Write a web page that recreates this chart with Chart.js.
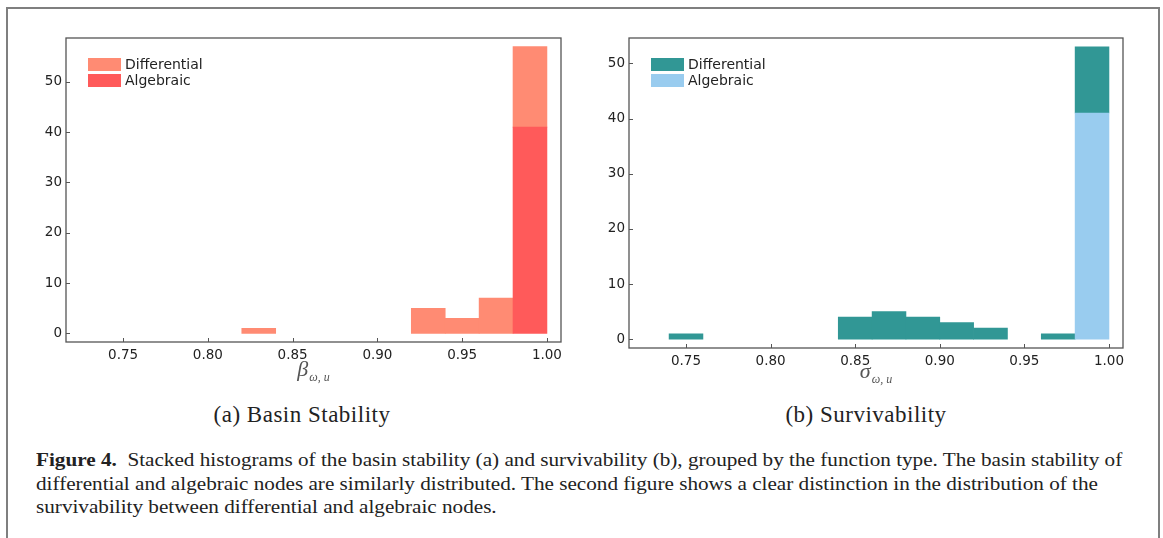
<!DOCTYPE html>
<html>
<head>
<meta charset="utf-8">
<script src="https://cdn.jsdelivr.net/npm/chart.js@4.4.1/dist/chart.umd.min.js"></script>
<style>
  body { margin: 0; width: 1163px; height: 538px; overflow: hidden; position: relative; background: #fff; font-family: "DejaVu Sans", sans-serif; }
  #frame { position: absolute; left: 6px; top: 7px; width: 1150px; height: 600px; border: 2px solid #7f7f7f; }
  canvas { position: absolute; top: 0; }
  .xlab { position: absolute; text-align: center; font-family: "Liberation Serif", serif; color: #555; }
  .xlab i { font-size: 22px; }
  .xlab sub { font-size: 12px; font-style: italic; vertical-align: -5px; margin-left: 1px; }
  .sub { position: absolute; top: 402px; font-family: "Liberation Serif", serif; font-size: 23px; letter-spacing: 0.5px; color: #222; text-align: center; width: 300px; }
  #caption { position: absolute; left: 36px; top: 449px; font-family: "Liberation Serif", serif; font-size: 18px; line-height: 23.5px; color: #222; white-space: nowrap; transform-origin: 0 0; }
</style>
</head>
<body>
<div id="frame"></div>
<canvas id="basin" width="580" height="400" style="left:0"></canvas>
<canvas id="surv" width="583" height="400" style="left:580px"></canvas>

<div class="xlab" style="left:66px;width:495px;top:356px"><i>β</i><sub>ω, u</sub></div>
<div class="xlab" style="left:629px;width:494px;top:358px"><i>σ</i><sub>ω, u</sub></div>

<div class="sub" style="left:152px">(a) Basin Stability</div>
<div class="sub" style="left:716px">(b) Survivability</div>

<div id="caption">
  <div id="l1"><b>Figure 4.</b>&nbsp; Stacked histograms of the basin stability (a) and survivability (b), grouped by the function type. The basin stability of</div>
  <div>differential and algebraic nodes are similarly distributed. The second figure shows a clear distinction in the distribution of the</div>
  <div>survivability between differential and algebraic nodes.</div>
</div>

<script>
// histogram bins, 0.02 wide (centres), from 0.74 to 1.00
const bins = [0.75, 0.77, 0.79, 0.81, 0.83, 0.85, 0.87, 0.89, 0.91, 0.93, 0.95, 0.97, 0.99];

// (a) basin stability counts
const basinDiff = [0, 0, 0, 0, 1, 0, 0, 0, 0, 5, 3, 7, 16];
const basinAlg  = [0, 0, 0, 0, 0, 0, 0, 0, 0, 0, 0, 0, 41];

// (b) survivability counts
const survDiff = [1, 0, 0, 0, 0, 4, 5, 4, 3, 2, 0, 1, 12];
const survAlg  = [0, 0, 0, 0, 0, 0, 0, 0, 0, 0, 0, 0, 41];

const xTicks = [0.75, 0.80, 0.85, 0.90, 0.95, 1.00];
const yTicks = [0, 10, 20, 30, 40, 50];

// empty bins are left out (null), otherwise chart.js draws a hairline at 0
const toPoints = arr => arr.map((v, i) => ({ x: bins[i], y: v === 0 ? null : v }));

// box around the plot + inward tick marks
const framePlugin = {
  id: "frame",
  afterDraw(chart) {
    const ctx = chart.ctx;
    const a = chart.chartArea;
    ctx.save();
    ctx.strokeStyle = "#555";
    ctx.lineWidth = 1.3;
    ctx.strokeRect(a.left, a.top, a.right - a.left, a.bottom - a.top);
    ctx.lineWidth = 1;
    chart.scales.x.ticks.forEach(t => {
      const px = Math.round(chart.scales.x.getPixelForValue(t.value)) + 0.5;
      ctx.beginPath(); ctx.moveTo(px, a.bottom); ctx.lineTo(px, a.bottom - 4); ctx.stroke();
    });
    chart.scales.y.ticks.forEach(t => {
      const py = Math.round(chart.scales.y.getPixelForValue(t.value)) + 0.5;
      ctx.beginPath(); ctx.moveTo(a.left, py); ctx.lineTo(a.left + 4, py); ctx.stroke();
    });
    ctx.restore();
  }
};

// legend drawn inside the plot, top left
const boxLegend = {
  id: "boxLegend",
  afterDraw(chart, args, opts) {
    const ctx = chart.ctx;
    const a = chart.chartArea;
    ctx.save();
    ctx.font = "14px 'DejaVu Sans'";
    ctx.textBaseline = "middle";
    opts.items.forEach((it, i) => {
      const x = a.left + 22, y = a.top + 20 + i * 16;
      ctx.fillStyle = it.color;
      ctx.fillRect(x, y, 33, 13);
      ctx.fillStyle = "#222";
      ctx.fillText(it.label, x + 37, y + 7);
    });
    ctx.restore();
  }
};

function makeHist(id, diff, alg, cDiff, cAlg, yMin, yMax, yWidth, pad) {
  new Chart(document.getElementById(id), {
    type: "bar",
    data: {
      datasets: [
        { label: "Algebraic", data: toPoints(alg), backgroundColor: cAlg, borderWidth: 0 },
        { label: "Differential", data: toPoints(diff), backgroundColor: cDiff, borderWidth: 0 }
      ]
    },
    options: {
      responsive: false,
      animation: false,
      devicePixelRatio: 1,
      layout: { padding: pad },
      barPercentage: 1,
      categoryPercentage: 1,
      plugins: {
        legend: { display: false },
        tooltip: { enabled: false },
        boxLegend: { items: [{ label: "Differential", color: cDiff }, { label: "Algebraic", color: cAlg }] }
      },
      scales: {
        x: {
          type: "linear",
          stacked: true,
          min: 0.7163,
          max: 1.0083,
          offset: false,
          grid: { display: false, drawTicks: false },
          border: { display: false },
          afterBuildTicks: s => { s.ticks = xTicks.map(v => ({ value: v })); },
          afterFit: s => { s.height = 30; },
          ticks: { color: "#222", font: { size: 13.5, family: "DejaVu Sans" }, padding: 5, maxRotation: 0, callback: v => v.toFixed(2) }
        },
        y: {
          stacked: true,
          min: yMin,
          max: yMax,
          grid: { display: false, drawTicks: false },
          border: { display: false },
          afterBuildTicks: s => { s.ticks = yTicks.map(v => ({ value: v })); },
          afterFit: s => { s.width = yWidth; },
          ticks: { color: "#222", font: { size: 13.5, family: "DejaVu Sans" }, padding: 4 }
        }
      }
    },
    plugins: [framePlugin, boxLegend]
  });
}

makeHist("basin", basinDiff, basinAlg, "#ff8b73", "#ff5a5a", -1.71, 58.71, 66, { top: 38, right: 19, bottom: 28, left: 0 });
makeHist("surv", survDiff, survAlg, "#319795", "#99ccef", -1.59, 54.59, 49, { top: 38, right: 40, bottom: 22, left: 0 });

// squeeze the caption so its first line spans the same width as in the figure
const cap = document.getElementById("caption");
const w = document.getElementById("l1").scrollWidth;
cap.style.transform = "scaleX(" + (1086 / w) + ")";
</script>
</body>
</html>
